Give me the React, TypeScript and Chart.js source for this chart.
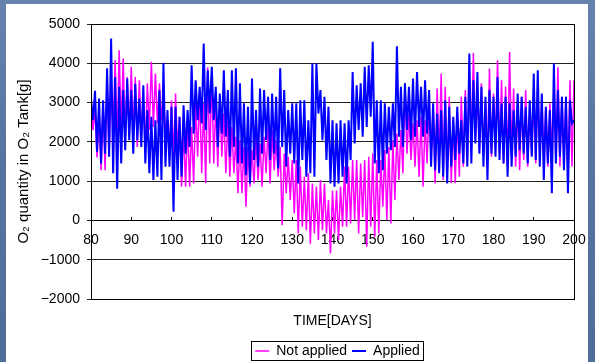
import React, { useEffect, useRef } from 'react';
import { Chart, registerables } from 'chart.js';

Chart.register(...registerables);

// Sampling of the time axis: two readings per day (peak / trough), day 80 to 200
const days: number[] = Array.from({ length: 241 }, (_, i) => 80 + i * 0.5);

const applied: number[] = [
  3100, 2550, 3300, 1750, 3100, 1450, 3060, 1700, 3870, 1620,
  4630, 1200, 3650, 810, 3400, 1450, 3320, 1790, 3610, 2040,
  3320, 1700, 3480, 2040, 3100, 1870, 3440, 1450, 2810, 1200,
  2640, 1030, 2550, 1110, 3320, 1030, 4010, 1370, 2810, 1370,
  2890, 220, 2890, 1030, 2640, 1110, 2930, 1700, 2810, 1870,
  3950, 2210, 3570, 2550, 3400, 2470, 4500, 2300, 3820, 2720,
  3910, 2550, 3400, 1870, 3230, 2210, 3820, 2130, 3320, 1620,
  3820, 1870, 3870, 1450, 3490, 1450, 2980, 1150, 2890, 940,
  3610, 1540, 2810, 1370, 3360, 1700, 3320, 2040, 3150, 1540,
  3230, 1700, 3150, 1320, 3870, 1870, 3320, 1370, 2810, 1700,
  2980, 1450, 2980, 940, 3060, 1540, 3060, 1110, 2550, 1200,
  4000, 1110, 4000, 2720, 3320, 2040, 3150, 1540, 2890, 940,
  2550, 860, 2470, 940, 2550, 1110, 2470, 940, 2550, 1540,
  3780, 1960, 3440, 2300, 3490, 2130, 3910, 2380, 3950, 2640,
  4550, 1450, 3060, 1200, 3060, 1280, 2980, 1700, 2890, 1790,
  2980, 1870, 4430, 2130, 3400, 1870, 3490, 2300, 3400, 2040,
  3610, 2130, 3780, 2380, 3400, 2130, 3570, 2210, 3320, 1370,
  2980, 1280, 2720, 1200, 2810, 1110, 3060, 940, 2890, 1370,
  2640, 1540, 2890, 1700, 2550, 1450, 3150, 1370, 4250, 1450,
  3570, 1960, 3780, 1700, 3400, 1370, 3150, 1030, 3320, 1700,
  3150, 1620, 3650, 1540, 2980, 1450, 3150, 1110, 2980, 1370,
  2810, 1620, 3230, 1790, 3150, 1700, 2890, 1450, 3060, 1620,
  3740, 1540, 3820, 1370, 3230, 1030, 2890, 1450, 2810, 690,
  4000, 1450, 3320, 1620, 3150, 1280, 3150, 690, 3060, 2470,
  2550,
];

const notApplied: number[] = [
  2900, 2300, 2800, 1600, 2550, 1280, 2970, 1280, 3740, 1700,
  3400, 2210, 4080, 1870, 4330, 2300, 4120, 2040, 3650, 2130,
  3910, 2130, 3650, 1870, 3570, 2300, 3060, 1870, 3490, 2300,
  4040, 2380, 3740, 2470, 3490, 2550, 3150, 2300, 2550, 1870,
  3060, 1620, 3230, 1870, 2640, 860, 2300, 860, 2550, 860,
  2380, 940, 2980, 1620, 3320, 1200, 2980, 950, 3900, 1450,
  3780, 1450, 2980, 1370, 3150, 1620, 2720, 1200, 2550, 1110,
  2380, 1200, 2130, 690, 2040, 690, 1870, 350, 1870, 860,
  1790, 940, 2130, 1030, 1960, 860, 2130, 1200, 2380, 940,
  2300, 1280, 2040, 1110, 1870, -120, 1700, 690, 1620, 520,
  1540, 180, 1540, -330, 1370, -160, 1110, -250, 1200, -590,
  940, -330, 860, -500, 1030, -250, 940, -330, 520, -840,
  760, -330, 760, -500, 860, -160, 1370, -160, 1370, -80,
  1540, 10, 1540, -330, 1450, 90, 1540, -670, 1620, -160,
  1700, -420, 1540, -330, 1540, 350, 1790, 10, 1870, -80,
  2040, 520, 2210, 1030, 2300, 1200, 3490, 1700, 2720, 1540,
  2470, 1370, 2550, 1110, 2640, 860, 2550, 1450, 2980, 1620,
  2890, 940, 3360, 1540, 3740, 1030, 3400, 1110, 3150, 950,
  2550, 950, 2720, 1110, 3150, 1370, 3320, 1540, 3570, 1880,
  4260, 2040, 3230, 1790, 3490, 1700, 3060, 1540, 3870, 1620,
  3230, 1880, 4080, 1700, 3570, 1450, 3400, 1370, 4290, 1700,
  3360, 1370, 2980, 1280, 3150, 1540, 3320, 1370, 2890, 1700,
  3060, 1450, 3400, 1540, 3150, 1540, 2890, 1370, 2980, 1790,
  3230, 1540, 3900, 1370, 3150, 1540, 3150, 1200, 3570, 1370,
  3570,
];

const seriesNames: string[] = ['Not applied', 'Applied'];
const xTitle = 'TIME[DAYS]';
const yTitle = 'O\u2082 quantity in O\u2082 Tank[g]';

const FONT = "'Liberation Sans', Arial, sans-serif";

const fmt = (v: number | string) => {
  const n = Number(v);
  return n < 0 ? '\u2212' + Math.abs(n) : String(n);
};

const framePlugin = {
  id: 'frameAndLegendBox',
  afterLayout(chart: any) {
    const lg = chart.legend;
    if (lg) {
      lg.left += 5;
      lg.right += 5;
    }
  },
  afterDraw(chart: any) {
    const { ctx, chartArea: a } = chart;
    ctx.save();
    ctx.strokeStyle = '#000';
    ctx.lineWidth = 1;
    ctx.strokeRect(
      Math.round(a.left) + 0.5,
      Math.round(a.top) + 0.5,
      Math.round(a.right - a.left),
      Math.round(a.bottom - a.top)
    );
    const hb = chart.legend && chart.legend.legendHitBoxes;
    if (hb && hb.length) {
      const l = Math.min(...hb.map((h: any) => h.left)) - 4;
      const r = Math.max(...hb.map((h: any) => h.left + h.width)) + 3;
      const t = hb[0].top - 3;
      const b = hb[0].top + hb[0].height + 2;
      ctx.strokeRect(Math.round(l) + 0.5, Math.round(t) + 0.5, Math.round(r - l), Math.round(b - t));
    }
    ctx.restore();
  },
};

export default function App() {
  const canvasRef = useRef<HTMLCanvasElement | null>(null);

  useEffect(() => {
    if (!canvasRef.current) return;
    Chart.defaults.font.family = FONT;
    Chart.defaults.color = '#000';
    const chart = new Chart(canvasRef.current, {
      type: 'line',
      data: {
        labels: days,
        datasets: [
          {
            label: seriesNames[0],
            data: notApplied,
            borderColor: '#ff00ff',
            backgroundColor: '#ff00ff',
            borderWidth: 1.5,
            pointRadius: 0,
            pointStyle: 'line',
            tension: 0,
            order: 1,
          },
          {
            label: seriesNames[1],
            data: applied,
            borderColor: '#0000ff',
            backgroundColor: '#0000ff',
            borderWidth: 2,
            pointRadius: 0,
            pointStyle: 'line',
            tension: 0,
            order: 0,
          },
        ],
      },
      options: {
        animation: false,
        responsive: false,
        maintainAspectRatio: false,
        layout: { padding: { left: 0, right: 14, top: 20, bottom: 0 } },
        plugins: {
          tooltip: { enabled: false },
          legend: {
            position: 'bottom',
            fullSize: false,
            maxHeight: 23,
            labels: {
              font: { size: 14, family: FONT },
              color: '#000',
              usePointStyle: true,
              pointStyle: 'line',
              pointStyleWidth: 14,
              boxHeight: 14,
              padding: 5,
              sort: (a: any, b: any) => a.datasetIndex - b.datasetIndex,
            },
          },
        },
        scales: {
          x: {
            type: 'linear',
            position: { y: 0 } as any,
            min: 80,
            max: 200,
            ticks: {
              stepSize: 10,
              font: { size: 14, family: FONT },
              color: '#000',
              padding: 15,
              maxRotation: 0,
              autoSkip: false,
              callback: (v: any) => String(v),
            },
            grid: { drawOnChartArea: false, color: '#000', tickLength: -4 },
            border: { display: true, color: '#000', width: 1 },
            afterFit: (s: any) => {
              s.paddingLeft = 0;
              s.paddingRight = 0;
            },
          },
          x2: {
            type: 'linear',
            position: 'bottom',
            min: 80,
            max: 200,
            ticks: { display: false },
            grid: { display: false, drawTicks: false },
            border: { display: false },
            title: {
              display: true,
              text: xTitle,
              font: { size: 14, family: FONT },
              color: '#000',
              padding: { top: 0, bottom: 9 },
            },
            afterFit: (s: any) => {
              s.height = 40;
              s.paddingLeft = 0;
              s.paddingRight = 0;
            },
          },
          y: {
            type: 'linear',
            min: -2000,
            max: 5000,
            ticks: {
              stepSize: 1000,
              font: { size: 14, family: FONT },
              color: '#000',
              padding: 7,
              callback: (v: any) => fmt(v),
            },
            grid: { color: '#222', lineWidth: 1, tickLength: 4 },
            border: { display: true, color: '#000', width: 1 },
            title: {
              display: true,
              text: yTitle,
              font: { size: 15, family: FONT },
              color: '#000',
              padding: { top: 9, bottom: 0 },
            },
            afterFit: (s: any) => {
              s.width = 85;
            },
          },
        },
      },
      plugins: [framePlugin],
    } as any);
    return () => chart.destroy();
  }, []);

  return (
    <div
      style={{
        position: 'fixed',
        left: 0,
        top: 0,
        width: 595,
        height: 362,
        background: 'linear-gradient(180deg, #6583ad 0%, #5676a1 40%, #4e6e99 100%)',
        overflow: 'hidden',
      }}
    >
      <div
        style={{
          position: 'absolute',
          left: 6,
          top: 4,
          width: 582,
          height: 358,
          background: '#fff',
        }}
      >
        <canvas ref={canvasRef} width={582} height={358} style={{ display: 'block', width: 582, height: 358 }} />
      </div>
    </div>
  );
}
